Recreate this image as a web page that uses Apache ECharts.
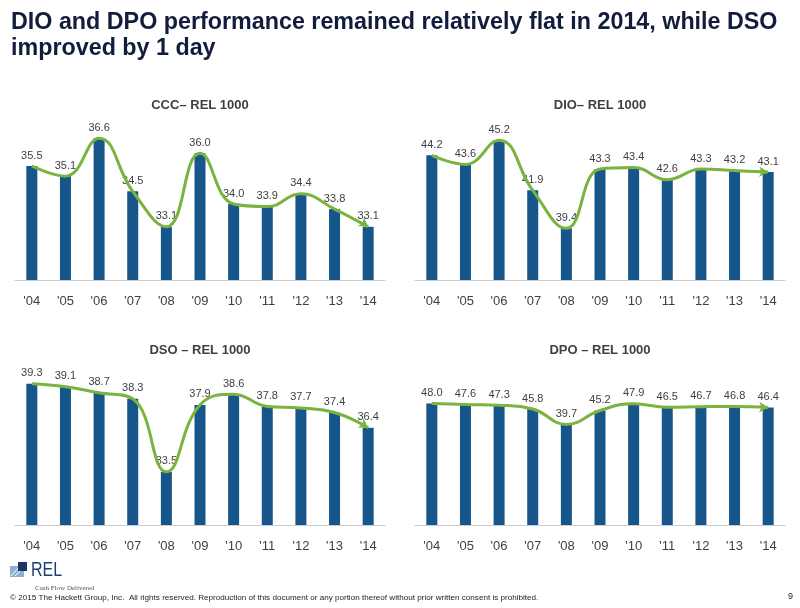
<!DOCTYPE html>
<html><head><meta charset="utf-8">
<script src="https://cdn.jsdelivr.net/npm/echarts@6/dist/echarts.min.js"></script>
<style>html,body{margin:0;padding:0;background:#fff}#c{width:800px;height:608px}</style>
</head><body><div id="c"></div>
<script>
const years = ["'04","'05","'06","'07","'08","'09","'10","'11","'12","'13","'14"];
const cccValues = [35.5,35.1,36.6,34.5,33.1,36.0,34.0,33.9,34.4,33.8,33.1];
const dioValues = [44.2,43.6,45.2,41.9,39.4,43.3,43.4,42.6,43.3,43.2,43.1];
const dsoValues = [39.3,39.1,38.7,38.3,33.5,37.9,38.6,37.8,37.7,37.4,36.4];
const dpoValues = [48.0,47.6,47.3,45.8,39.7,45.2,47.9,46.5,46.7,46.8,46.4];
const panelTitles = ['CCC\u2013 REL 1000','DIO\u2013 REL 1000','DSO \u2013 REL 1000','DPO \u2013 REL 1000'];
const yMin = [31,36,30,0];
const yMax = [37,46,40,60];

const panels = [cccValues, dioValues, dsoValues, dpoValues];
const gridPos = [
  {left:15, top:128}, {left:415, top:128},
  {left:15, top:373}, {left:415, top:373}
];
const arrowRotate = [-125, -92, -122, -92];
const titleCenters = [[200,105],[600,105],[200,350],[600,350]];

const BAR = '#16568a';
const GREEN = '#7ab340';
const FONT = 'Liberation Sans, Arial, sans-serif';

const grids = [], xAxes = [], yAxes = [], series = [];
panels.forEach((vals, i) => {
  grids.push({left: gridPos[i].left, top: gridPos[i].top, width: 370, height: 152});
  xAxes.push({
    type:'category', gridIndex:i, data: years,
    axisLine:{lineStyle:{color:'#c9cdd2', width:1}},
    axisTick:{show:false},
    axisLabel:{color:'#404040', fontSize:13, fontFamily:FONT, margin:15}
  });
  yAxes.push({
    type:'value', gridIndex:i, min:yMin[i], max:yMax[i],
    show:false, splitLine:{show:false}
  });
  series.push({
    type:'bar', xAxisIndex:i, yAxisIndex:i, data: vals, barWidth:11,
    itemStyle:{color:BAR},
    label:{show:true, position:'top', distance:5, color:'#404040', fontSize:11, fontFamily:FONT,
      formatter: p => Number(p.value).toFixed(1)},
    z:2
  });
  series.push({
    type:'line', xAxisIndex:i, yAxisIndex:i, smooth:0.45,
    data: vals.map((v, k) => k === vals.length - 1
      ? {value:v, symbol:'arrow', symbolSize:[8,9], symbolRotate:arrowRotate[i], itemStyle:{color:GREEN}}
      : {value:v, symbol:'none'}),
    lineStyle:{color:GREEN, width:3},
    itemStyle:{color:GREEN},
    showSymbol:true, silent:true, z:5
  });
});

const graphic = [
  {type:'text', left:11, top:10, style:{text:'DIO and DPO performance remained relatively flat in 2014, while DSO\nimproved by 1 day',
    font:'bold 23.3px ' + FONT, fill:'#121c3c', lineHeight:26}},
  ...panelTitles.map((t, i) => ({type:'text', x:titleCenters[i][0], y:titleCenters[i][1],
    style:{text:t, font:'bold 13px ' + FONT, fill:'#404040', align:'center', verticalAlign:'middle'}})),
  {type:'rect', shape:{x:10, y:566, width:14, height:11}, style:{fill:'#8eaed4'}},
  {type:'line', shape:{x1:11, y1:576, x2:19, y2:567}, style:{stroke:'#ffffff', lineWidth:1}},
  {type:'line', shape:{x1:15, y1:576, x2:23, y2:568}, style:{stroke:'#ffffff', lineWidth:1}},
  {type:'rect', shape:{x:18, y:562, width:9, height:9}, style:{fill:'#1b3566'}},
  {type:'text', x:31, y:560, scaleX:0.8, style:{text:'REL', font:'20px ' + FONT, fill:'#1f3d73'}},
  {type:'text', x:35, y:585, style:{text:'Cash Flow Delivered', font:'7px Liberation Serif, serif', fill:'#555'}},
  {type:'text', x:10, y:594, style:{text:'\u00a9 2015 The Hackett Group, Inc.  All rights reserved. Reproduction of this document or any portion thereof without prior written consent is prohibited.',
    font:'8.1px ' + FONT, fill:'#222'}},
  {type:'text', x:788, y:592, style:{text:'9', font:'9px ' + FONT, fill:'#222'}}
];

const chart = echarts.init(document.getElementById('c'));
chart.setOption({
  animation:false,
  backgroundColor:'#fff',
  grid: grids, xAxis: xAxes, yAxis: yAxes, series: series, graphic: graphic
});
</script></body></html>
